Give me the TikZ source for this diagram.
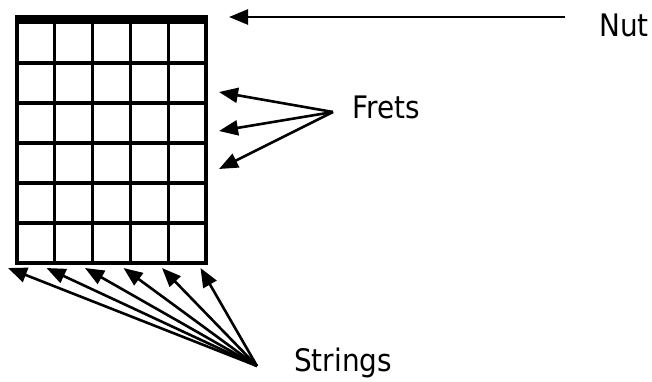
\documentclass[tikz,border=0pt]{standalone}
\usepackage{fontspec}
\setmainfont{DejaVu Sans}[FakeStretch=0.9]
\usetikzlibrary{arrows.meta,positioning}
\definecolor{ink}{RGB}{0,0,0}
\tikzset{
  lbl/.style={anchor=base west,inner sep=0pt,font=\fontsize{31}{34}\selectfont},
  grd/.style={draw=ink,line width=3.2pt},
  arr/.style={-{Triangle[length=19pt,width=15pt]},line width=2.6pt,draw=ink},
}
\begin{document}
\begin{tikzpicture}[x=1pt,y=-1pt]
  \useasboundingbox (0,0) rectangle (652,381);
  % fretboard
  \foreach \j in {1,...,6}
    \draw[grd] (17,{23+40*\j}) -- (206,{23+40*\j});
  \foreach \i in {0,...,5}
    \draw[grd] ({17+37.8*\i},23) -- ({17+37.8*\i},264.6);
  \fill[ink] (15.4,15) rectangle (207.6,24);
  % labels
  \node[lbl] (nut) at (599,36) {Nut};
  \node[lbl] (frets) at (352,118) {Frets};
  \node[lbl] (strings) at (294,371) {Strings};
  % nut arrow
  \coordinate (ns) at (565,17);
  \coordinate (nt) at (229,17);
  \draw[arr] (ns) -- (nt);
  % fret arrows
  \coordinate (fs) at (333,112);
  \foreach \y [count=\k] in {92,131,169}
    \coordinate (ft\k) at (219,\y);
  \foreach \k in {1,2,3}
    \draw[arr] (fs) -- (ft\k);
  % string arrows
  \coordinate (ss) at (257,366);
  \foreach \i in {0,...,5}
    \coordinate (st\i) at ({8+38.5*\i},268);
  \foreach \i in {0,...,5}
    \draw[arr] (ss) -- (st\i);
\end{tikzpicture}
\end{document}
